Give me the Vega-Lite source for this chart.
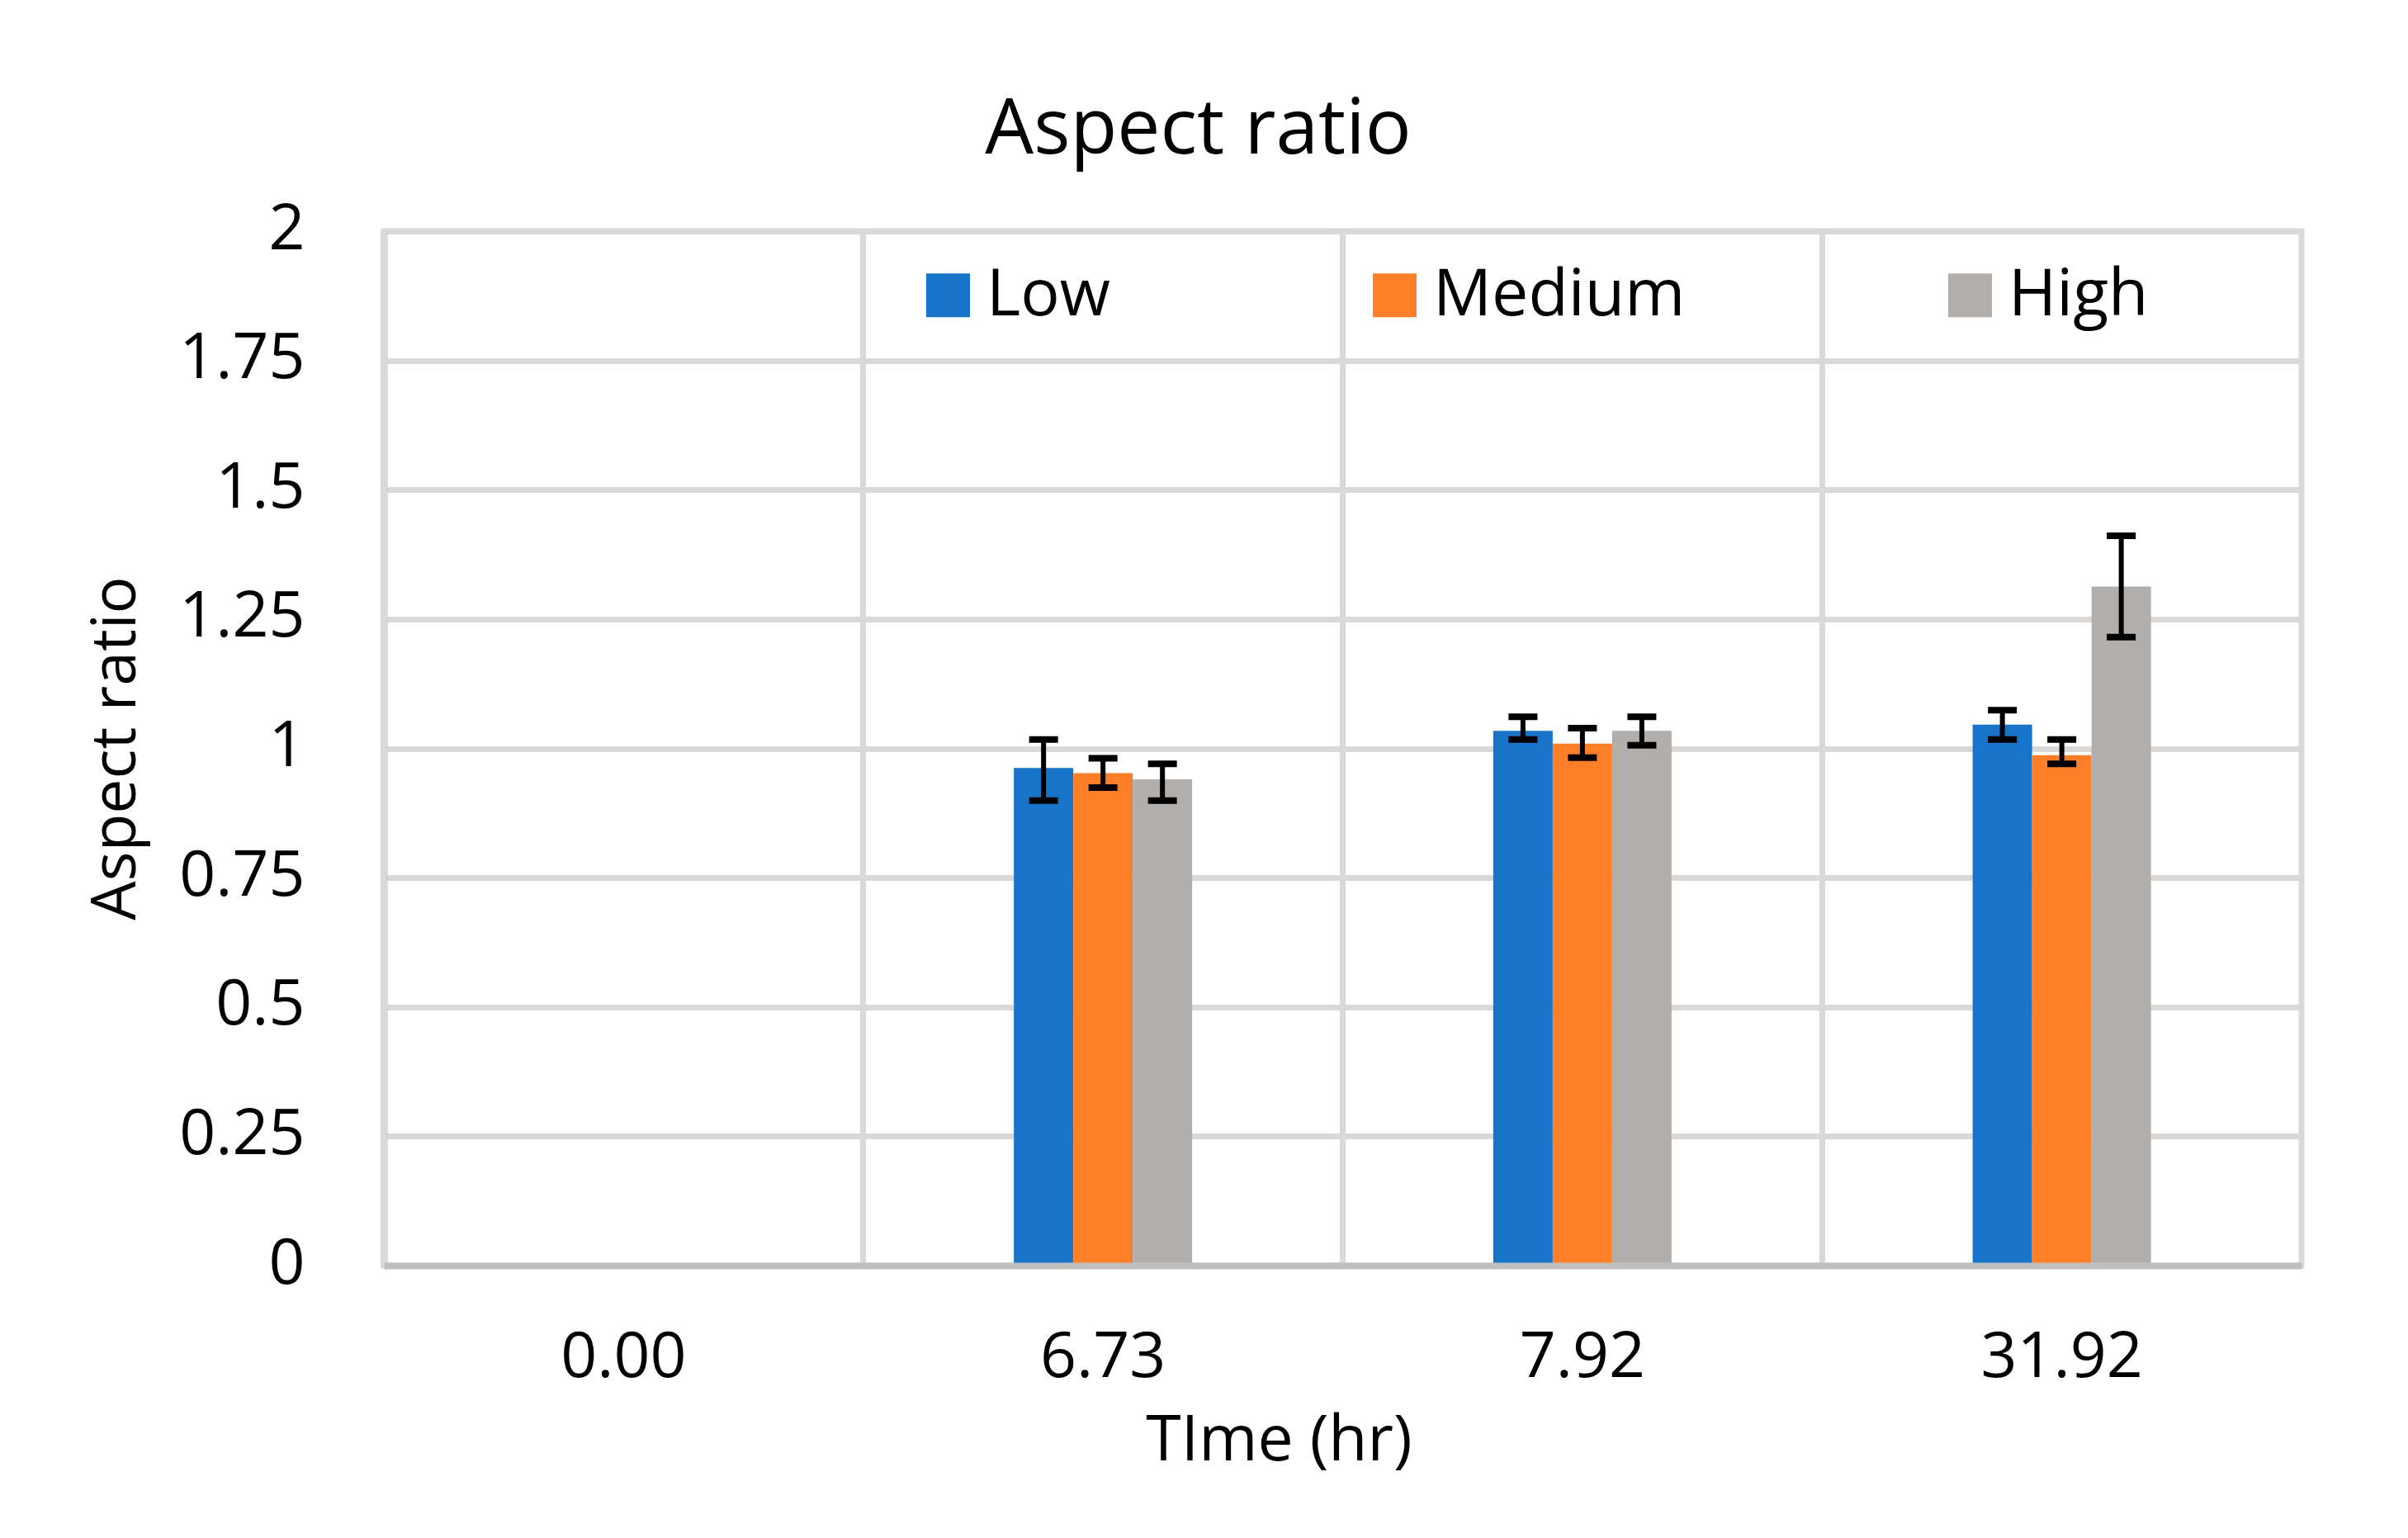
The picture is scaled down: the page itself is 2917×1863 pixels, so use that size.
{
  "$schema": "https://vega.github.io/schema/vega-lite/v6.json",
  "width": 2323,
  "height": 1253,
  "autosize": {"type": "none"},
  "padding": {"left": 465, "top": 280, "right": 129, "bottom": 330},
  "background": "white",
  "title": {
    "text": "Aspect ratio",
    "font": "Open Sans",
    "fontSize": 93,
    "fontWeight": "normal",
    "color": "black",
    "anchor": "middle",
    "frame": "bounds",
    "baseline": "alphabetic",
    "offset": -40,
    "dx": 6
  },
  "data": {
    "values": [
      {"time": "6.73", "level": "Low", "value": 0.962, "lo": 0.899, "hi": 1.017},
      {"time": "6.73", "level": "Medium", "value": 0.952, "lo": 0.924, "hi": 0.981},
      {"time": "6.73", "level": "High", "value": 0.940, "lo": 0.899, "hi": 0.970},
      {"time": "7.92", "level": "Low", "value": 1.034, "lo": 1.017, "hi": 1.061},
      {"time": "7.92", "level": "Medium", "value": 1.009, "lo": 0.982, "hi": 1.039},
      {"time": "7.92", "level": "High", "value": 1.034, "lo": 1.006, "hi": 1.061},
      {"time": "31.92", "level": "Low", "value": 1.046, "lo": 1.017, "hi": 1.074},
      {"time": "31.92", "level": "Medium", "value": 0.987, "lo": 0.970, "hi": 1.017},
      {"time": "31.92", "level": "High", "value": 1.313, "lo": 1.215, "hi": 1.411}
    ]
  },
  "encoding": {
    "x": {
      "field": "time",
      "type": "nominal",
      "scale": {"domain": ["0.00", "6.73", "7.92", "31.92"], "paddingInner": 0, "paddingOuter": 0},
      "axis": {
        "title": "TIme (hr)",
        "grid": true,
        "gridColor": "#d9d9d9",
        "gridWidth": 7,
        "bandPosition": 0,
        "ticks": false,
        "tickSize": 0,
        "labelAngle": 0,
        "labelBaseline": "alphabetic",
        "labelPadding": 134,
        "labelLimit": 0,
        "labelFont": "Open Sans",
        "labelFontSize": 77,
        "labelColor": "black",
        "domainColor": "#bfbfbf",
        "domainWidth": 8,
        "titleFont": "Open Sans",
        "titleFontSize": 77,
        "titleFontWeight": "normal",
        "titleColor": "black",
        "titleBaseline": "alphabetic",
        "titleX": 1084,
        "titleY": 235,
        "zindex": 1
      }
    },
    "xOffset": {
      "field": "level",
      "type": "nominal",
      "sort": ["Low", "Medium", "High"],
      "scale": {"paddingInner": 0, "paddingOuter": 0, "range": [182.4, 398.4]}
    }
  },
  "layer": [
    {
      "mark": {"type": "bar"},
      "encoding": {
        "y": {
          "field": "value",
          "type": "quantitative",
          "scale": {"domain": [0, 2], "nice": false},
          "axis": {
            "title": "Aspect ratio",
            "values": [0, 0.25, 0.5, 0.75, 1, 1.25, 1.5, 1.75, 2],
            "format": "~g",
            "grid": true,
            "gridColor": "#d9d9d9",
            "gridWidth": 7,
            "ticks": false,
            "tickSize": 0,
            "labelPadding": 96,
            "labelBaseline": "alphabetic",
            "labelOffset": 21,
            "labelFont": "Open Sans",
            "labelFontSize": 77,
            "labelColor": "black",
            "domainColor": "#bfbfbf",
            "domainWidth": 8,
            "titleFont": "Open Sans",
            "titleFontSize": 75,
            "titleFontWeight": "normal",
            "titleColor": "black",
            "titleBaseline": "middle",
            "titleX": -325,
            "titleY": 626,
            "zindex": 0
          }
        },
        "color": {
          "field": "level",
          "type": "nominal",
          "scale": {"domain": ["Low", "Medium", "High"], "range": ["#1874c8", "#fe7f27", "#b2aeac"]},
          "legend": {
            "title": null,
            "orient": "none",
            "legendX": 644,
            "legendY": 38,
            "direction": "horizontal",
            "symbolType": "square",
            "symbolSize": 2809,
            "symbolStrokeWidth": 0,
            "symbolOpacity": 1,
            "labelFont": "Open Sans",
            "labelFontSize": 79,
            "labelColor": "black",
            "labelOffset": 7,
            "labelLimit": 0,
            "columnPadding": 305,
            "padding": 0
          }
        }
      }
    },
    {
      "mark": {"type": "rule", "color": "black", "strokeWidth": 6},
      "encoding": {
        "y": {"field": "lo", "type": "quantitative"},
        "y2": {"field": "hi"}
      }
    },
    {
      "mark": {"type": "tick", "color": "black", "thickness": 8, "size": 35, "opacity": 1},
      "encoding": {
        "y": {"field": "lo", "type": "quantitative"}
      }
    },
    {
      "mark": {"type": "tick", "color": "black", "thickness": 8, "size": 35, "opacity": 1},
      "encoding": {
        "y": {"field": "hi", "type": "quantitative"}
      }
    }
  ],
  "config": {
    "font": "Open Sans",
    "view": {"stroke": "#d9d9d9", "strokeWidth": 7}
  }
}
